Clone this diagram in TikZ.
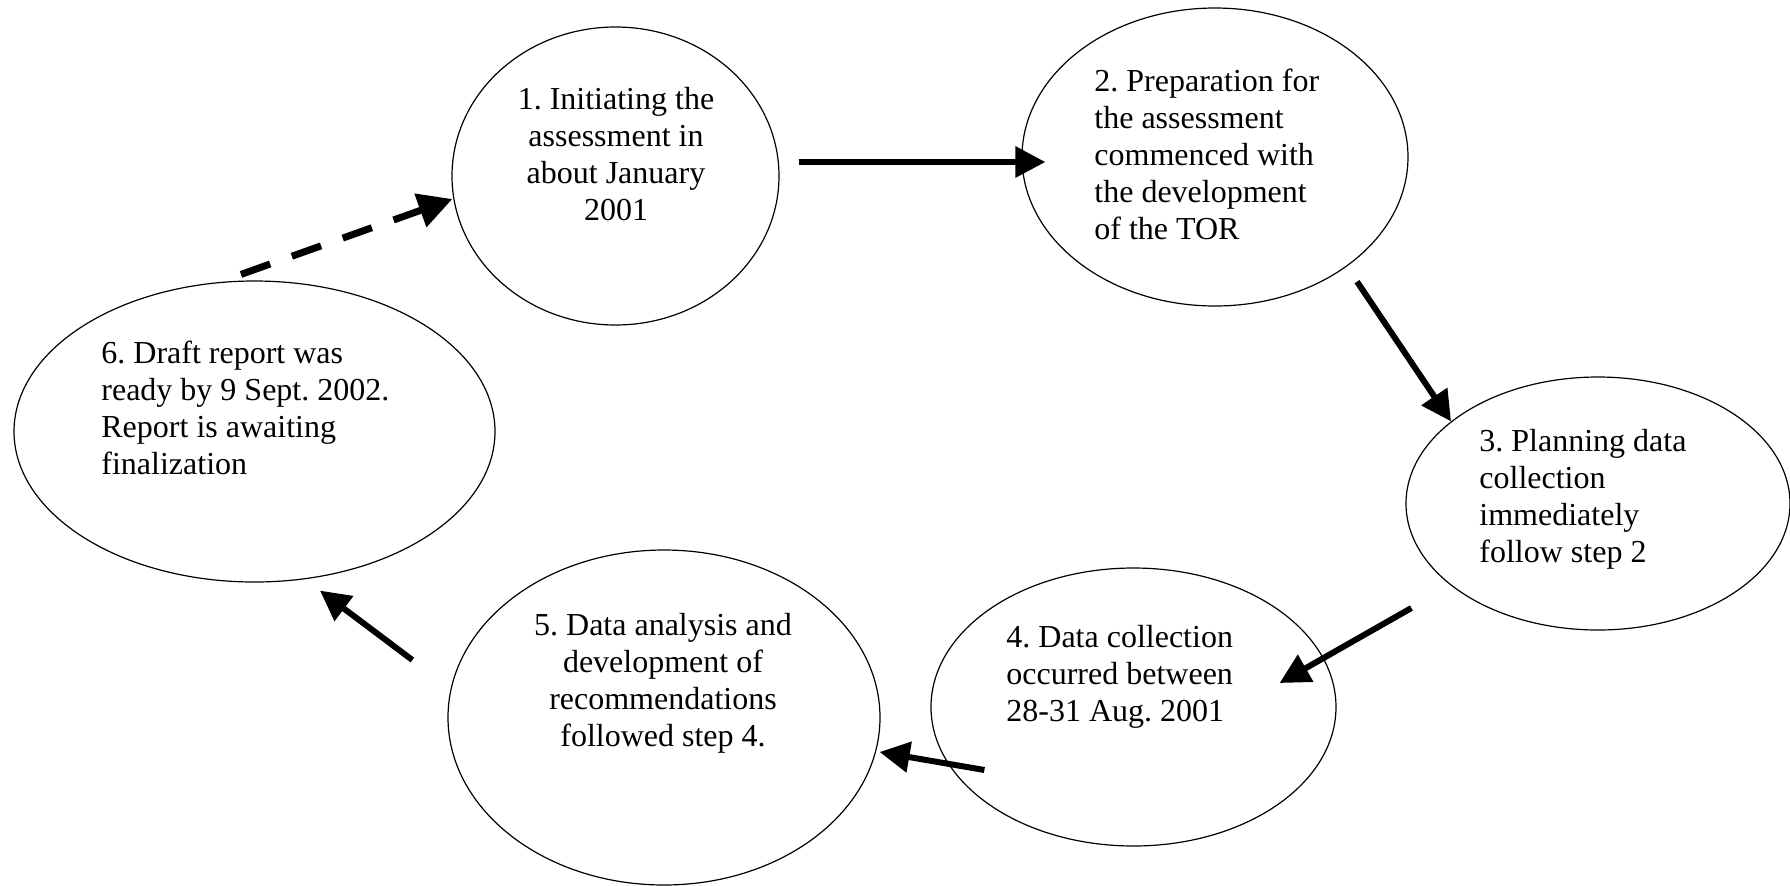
\documentclass[tikz,border=0pt]{standalone}
\usepackage{fontspec}
\setmainfont{Liberation Serif}
\usetikzlibrary{shapes.geometric,arrows.meta,positioning}

\tikzset{
  stage/.style={draw, ellipse, line width=0.6pt, inner sep=0pt},
  note/.style={inner sep=0pt, font=\fontsize{16}{18.4}\selectfont\frenchspacing},
  flow/.style={line width=3pt, -{Triangle[length=15pt,width=15pt]}},
  later/.style={line width=3.5pt, dash pattern=on 15.5pt off 11.5pt, -{Triangle[length=17pt,width=17pt]}},
}

\begin{document}
\begin{tikzpicture}[x=0.5pt, y=-0.5pt]
\useasboundingbox (0,0) rectangle (1790,885);
% the six stages
\node[stage, minimum width=163.5pt, minimum height=149pt] (s1) at (615.5,176) {};
\node[stage, minimum width=193pt, minimum height=149pt] (s2) at (1215,157) {};
\node[stage, minimum width=192pt, minimum height=126.5pt] (s3) at (1598,503.5) {};
\node[stage, minimum width=202.5pt, minimum height=139pt] (s4) at (1133.5,707) {};
\node[stage, minimum width=216pt, minimum height=167.5pt] (s5) at (664,717.5) {};
\node[stage, minimum width=240.5pt, minimum height=150.5pt] (s6) at (254.5,431.5) {};

\node[note, align=center, anchor=north] (t1) at (616,87) {1. Initiating the\\assessment in\\about January\\2001};
\node[note, align=left, anchor=north west] (t2) at (1094,69) {2. Preparation for\\the assessment\\commenced with\\the development\\of the TOR};
\node[note, align=left, anchor=north west] (t3) at (1479,429) {3. Planning data\\collection\\immediately\\follow step 2};
\node[note, align=left, anchor=north west] (t4) at (1006,625) {4. Data collection\\occurred between\\28-31 Aug. 2001};
\node[note, align=center, anchor=north] (t5) at (663,613) {5. Data analysis and\\development of\\recommendations\\followed step 4.};
\node[note, align=left, anchor=north west] (t6) at (101,341) {6. Draft report was\\ready by 9 Sept. 2002.\\Report is awaiting\\finalization};

% arrows round the cycle
\draw[flow] ([shift={(19,-14)}]s1.east) -- ([shift={(24,5)}]s2.west);
\draw[flow] ([shift={(142,-25)}]s2.south) -- ([shift={(-147,45)}]s3.north);
\draw[flow] ([shift={(6,104.5)}]s3.west) -- ([shift={(-57,-24)}]s4.east);
\draw[flow] ([shift={(54,63)}]s4.west) -- ([shift={(-1,34.5)}]s5.east);
\draw[flow] ([shift={(-35,-57.5)}]s5.west) -- ([shift={(65.5,8)}]s6.south);
\draw[later] ([shift={(-13.5,-6)}]s6.north) -- ([shift={(1,23)}]s1.west);
\end{tikzpicture}
\end{document}
